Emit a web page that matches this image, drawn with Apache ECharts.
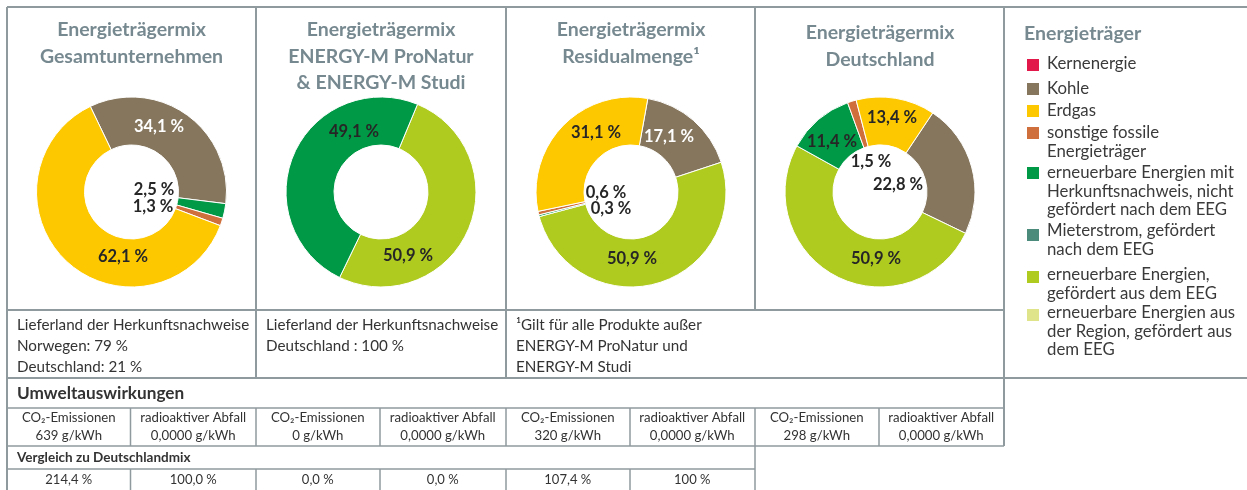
<!DOCTYPE html>
<html lang="de">
<head>
<meta charset="UTF-8">
<title>Energieträgermix</title>
<script src="https://cdn.jsdelivr.net/npm/echarts@6/dist/echarts.min.js"></script>
<style>
  html, body { margin: 0; padding: 0; background: #fff; }
  #chart { width: 1247px; height: 490px; }
</style>
</head>
<body>
<div id="chart"></div>
<script>
// Energieträger (Reihenfolge wie in der Legende)
var categories = ['Kernenergie', 'Kohle', 'Erdgas', 'sonstige fossile Energieträger',
  'erneuerbare Energien mit Herkunftsnachweis, nicht gefördert nach dem EEG',
  'Mieterstrom, gefördert nach dem EEG', 'erneuerbare Energien, gefördert aus dem EEG',
  'erneuerbare Energien aus der Region, gefördert aus dem EEG'];
var legendLines = [['Kernenergie'], ['Kohle'], ['Erdgas'], ['sonstige fossile', 'Energieträger'],
  ['erneuerbare Energien mit', 'Herkunftsnachweis, nicht', 'gefördert nach dem EEG'],
  ['Mieterstrom, gefördert', 'nach dem EEG'], ['erneuerbare Energien,', 'gefördert aus dem EEG'],
  ['erneuerbare Energien aus', 'der Region, gefördert aus', 'dem EEG']];
var colors = ['#e2184b', '#85765d', '#fec800', '#cf6f3b', '#009a46', '#4b8b7b', '#afcb20', '#dfe48a'];

// Anteile in % je Diagramm
var gesamt      = [0, 34.1, 62.1, 1.3, 2.5, 0, 0, 0];
var proNatur    = [0, 0, 0, 0, 49.1, 0, 50.9, 0];
var residual    = [0, 17.1, 31.1, 0.6, 0.3, 0, 50.9, 0];
var deutschland = [0, 22.8, 13.4, 1.5, 11.4, 0, 50.9, 0];

var titles = [['Energieträgermix', 'Gesamtunternehmen'],
  ['Energieträgermix', 'ENERGY-M ProNatur', '& ENERGY-M Studi'],
  ['Energieträgermix', 'Residualmenge¹'],
  ['Energieträgermix', 'Deutschland']];

// Tabelle
var herkunft = [['Lieferland der Herkunftsnachweise', 'Norwegen: 79 %', 'Deutschland: 21 %'],
  ['Lieferland der Herkunftsnachweise', 'Deutschland : 100 %'],
  ['¹Gilt für alle Produkte außer', 'ENERGY-M ProNatur und', 'ENERGY-M Studi']];
var co2 = ['639', '0', '320', '298'];
var abfall = ['0,0000', '0,0000', '0,0000', '0,0000'];
var vergleich = ['214,4 %', '100,0 %', '0,0 %', '0,0 %', '107,4 %', '100 %'];

// Layout
var FONT = 'Lato, "Open Sans", sans-serif';
var GRID = '#8f9a9e';
var colX = [7, 256, 506, 755, 1004];
var centersX = [131.5, 381, 631, 880];
var CY = 192;
var sliceOrder = [1, 6, 4, 3, 2];          // im Uhrzeigersinn
var startAngles = [115.7, 67.4, 79.8, 56.3];
// Beschriftungsposition relativ zum Mittelpunkt [dx, dy, farbe]
var labelPos = [
  {1: [27.5, -65, '#fff'], 4: [22.5, -2], 3: [21.5, 15], 2: [-8.5, 65]},
  {4: [-27, -60.5], 6: [27, 63.5]},
  {2: [-35, -59.5], 1: [38, -55.5, '#fff'], 3: [-25, 0.5], 4: [-20, 16.5], 6: [1, 66.5]},
  {2: [12, -74], 4: [-48, -50], 3: [-9, -30], 1: [18, -7], 6: [-4, 67]}
];

function fmt(v) { return v.toFixed(1).replace('.', ',') + ' %'; }

var mixes = [gesamt, proNatur, residual, deutschland];
var catMaps = [];
var series = mixes.map(function (vals, s) {
  var data = [], map = [];
  sliceOrder.forEach(function (c) {
    if (vals[c] > 0) {
      var lp = labelPos[s][c] || [0, 0];
      data.push({
        name: categories[c], value: vals[c],
        itemStyle: {color: colors[c]},
        label: {color: lp[2] || '#262626'}
      });
      map.push(c);
    }
  });
  catMaps.push(map);
  return {
    type: 'pie',
    center: [centersX[s], CY],
    radius: [47, 95],
    startAngle: startAngles[s],
    clockwise: true,
    silent: true,
    avoidLabelOverlap: false,
    itemStyle: {borderColor: '#fff', borderWidth: 1},
    label: {
      show: true, position: 'inside',
      formatter: function (p) { return fmt(p.value); },
      fontFamily: FONT, fontWeight: 'bold', fontSize: 16.5
    },
    labelLine: {show: false},
    labelLayout: function (p) {
      var c = catMaps[p.seriesIndex][p.dataIndex];
      var lp = labelPos[p.seriesIndex][c];
      return {x: centersX[p.seriesIndex] + lp[0], y: CY + lp[1], align: 'center', verticalAlign: 'middle'};
    },
    data: data
  };
});

var graphics = [];
function txt(x, y, text, opt) {
  opt = opt || {};
  graphics.push({
    type: 'text', x: x, y: y, silent: true,
    style: {
      text: text, fill: opt.color || '#333', fontFamily: FONT,
      fontSize: opt.size || 14, fontWeight: opt.weight || 'normal',
      align: opt.align || 'left', verticalAlign: 'middle'
    }
  });
}
function line(x1, y1, x2, y2, w) {
  graphics.push({
    type: 'line', silent: true,
    shape: {x1: x1, y1: y1, x2: x2, y2: y2},
    style: {stroke: GRID, lineWidth: w || 1.5}
  });
}

// Titel
var titleTop = [30, 30, 30, 33];
titles.forEach(function (t, i) {
  t.forEach(function (l, k) {
    txt(centersX[i], titleTop[i] + k * 26.5, l, {size: 19.5, weight: 'bold', color: '#778990', align: 'center'});
  });
});

// Legende
txt(1024, 34, 'Energieträger', {size: 19.5, weight: 'bold', color: '#778990'});
var swatchY = [65, 89, 111, 133, 173, 235, 277, 315];
var textY = [64, 89, 111, 133, 173, 231, 275, 313];
legendLines.forEach(function (ls, i) {
  graphics.push({type: 'rect', silent: true, shape: {x: 1027, y: swatchY[i] - 6, width: 12, height: 12},
    style: {fill: colors[i]}});
  ls.forEach(function (l, k) { txt(1047, textY[i] + k * 18.5, l, {size: 16.8, color: '#3a3a3a'}); });
});

// Herkunft
herkunft.forEach(function (ls, i) {
  ls.forEach(function (l, k) { txt(colX[i] + 10, 325 + k * 21, l, {size: 15.2}); });
});

// Umweltauswirkungen
txt(17, 393, 'Umweltauswirkungen', {size: 17.2, weight: 'bold'});
var subX = [];
colX.slice(0, 4).forEach(function (x0, i) {
  var mid = x0 + 123.5, x1 = colX[i + 1];
  subX.push((x0 + mid) / 2, (mid + x1) / 2);
  txt((x0 + mid) / 2, 418, 'CO₂-Emissionen', {size: 13.2, align: 'center'});
  txt((x0 + mid) / 2, 436, co2[i] + ' g/kWh', {size: 13.2, align: 'center'});
  txt((mid + x1) / 2, 418, 'radioaktiver Abfall', {size: 13.2, align: 'center'});
  txt((mid + x1) / 2, 436, abfall[i] + ' g/kWh', {size: 13.2, align: 'center'});
});
txt(17, 458, 'Vergleich zu Deutschlandmix', {size: 13.5, weight: 'bold'});
vergleich.forEach(function (v, i) { txt(subX[i], 480, v, {size: 13, align: 'center'}); });

// Rahmenlinien
line(7, 7, 1247, 7, 2);
line(7, 310, 1004, 310, 2);
line(7, 378, 1247, 378, 2);
line(7, 408, 1004, 408);
line(7, 446, 1004, 446);
line(7, 469, 755, 469);
line(7, 7, 7, 490, 2);
line(256, 7, 256, 378, 2);
line(506, 7, 506, 378, 2);
line(755, 7, 755, 310, 2);
line(1004, 7, 1004, 446, 2);
[130.5, 256, 380, 506, 630, 755, 879, 1004].forEach(function (x) { line(x, 408, x, 446); });
[130.5, 256, 380, 506, 630, 755].forEach(function (x) { line(x, 469, x, 490); });
line(755, 446, 755, 469);

var chart = echarts.init(document.getElementById('chart'));
chart.setOption({
  animation: false,
  backgroundColor: '#fff',
  series: series,
  graphic: {elements: graphics}
});
</script>
</body>
</html>
